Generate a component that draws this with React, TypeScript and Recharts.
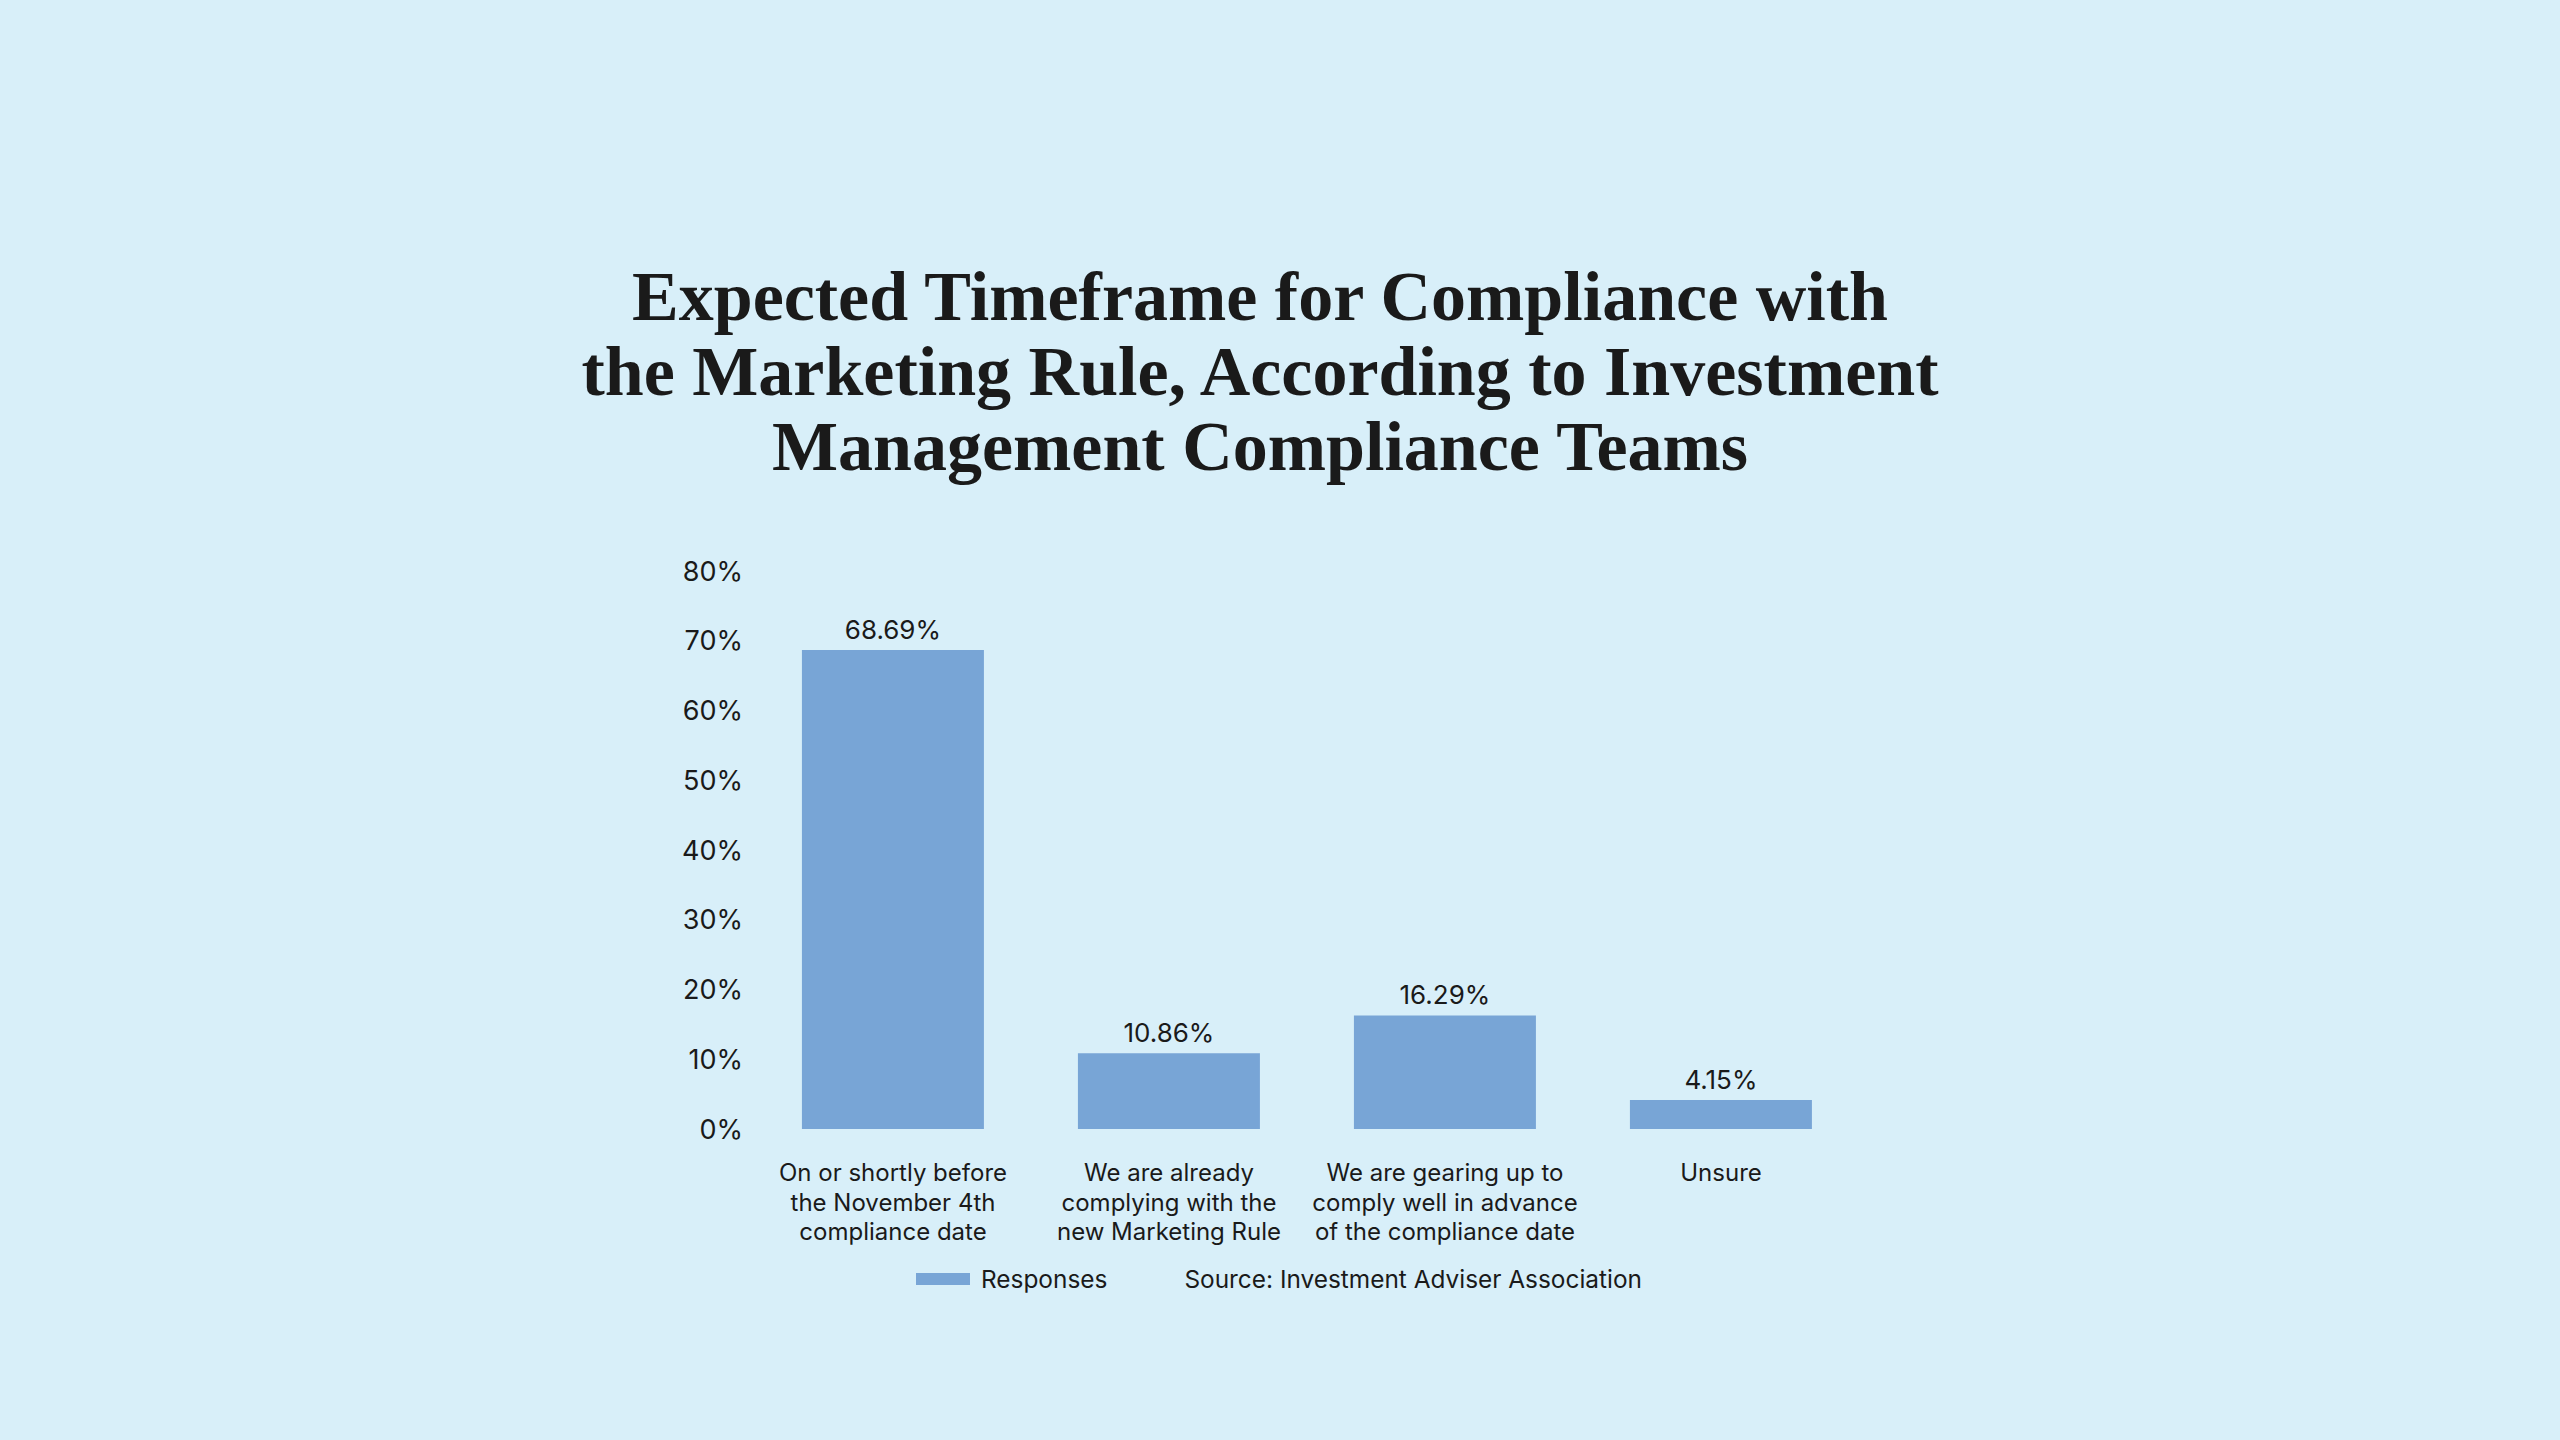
import React from 'react';
import { BarChart, Bar, XAxis, YAxis, LabelList, Legend } from 'recharts';

const titleLines = [
  'Expected Timeframe for Compliance with',
  'the Marketing Rule, According to Investment',
  'Management Compliance Teams',
];
const categories = [
  'On or shortly before\nthe November 4th\ncompliance date',
  'We are already\ncomplying with the\nnew Marketing Rule',
  'We are gearing up to\ncomply well in advance\nof the compliance date',
  'Unsure',
];
const responses = [68.69, 10.86, 16.29, 4.15];
const yTicks = [0, 10, 20, 30, 40, 50, 60, 70, 80];
const seriesName = 'Responses';
const sourceText = 'Source: Investment Adviser Association';

const BG = '#d8eff9';
const BAR = '#78a5d6';
const TEXT = '#1a1a1a';
const SANS = 'Inter, "Noto Sans", sans-serif';

const data = categories.map((c, i) => ({ category: c, value: responses[i] }));

const CategoryTick = (props: any) => {
  const { x, y, payload } = props;
  const lines = String(payload.value).split('\n');
  return (
    <text x={x} y={y} textAnchor="middle" fill={TEXT} fontFamily={SANS} fontSize={24}>
      {lines.map((l, i) => (
        <tspan key={i} x={x} dy={i === 0 ? 44 : 29.5}>
          {l}
        </tspan>
      ))}
    </text>
  );
};

const LegendContent = () => (
  <div
    style={{
      display: 'flex',
      alignItems: 'center',
      height: 30,
      fontFamily: SANS,
      fontSize: 24.4,
      color: TEXT,
      whiteSpace: 'nowrap',
    }}
  >
    <span style={{ width: 54, height: 12, background: BAR, display: 'inline-block' }} />
    <span style={{ marginLeft: 11 }}>{seriesName}</span>
    <span style={{ marginLeft: 77 }}>{sourceText}</span>
  </div>
);

export default function App() {
  return (
    <div
      style={{
        position: 'fixed',
        left: 0,
        top: 0,
        width: 2560,
        height: 1440,
        background: BG,
        overflow: 'hidden',
      }}
    >
      <div
        style={{
          position: 'absolute',
          left: 0,
          top: 259,
          width: 2520,
          textAlign: 'center',
          fontFamily: '"Liberation Serif", serif',
          fontWeight: 700,
          fontSize: 70,
          lineHeight: '75px',
          color: TEXT,
        }}
      >
        {titleLines.map((l, i) => (
          <div key={i}>{l}</div>
        ))}
      </div>
      <div style={{ position: 'absolute', left: 0, top: 0 }}>
        <BarChart
          width={2560}
          height={1440}
          data={data}
          margin={{ top: 571, right: 701, bottom: 161, left: 655 }}
          barCategoryGap="17%"
        >
          <XAxis
            dataKey="category"
            axisLine={false}
            tickLine={false}
            interval={0}
            height={120}
            tick={<CategoryTick />}
          />
          <YAxis
            width={100}
            domain={[0, 80]}
            ticks={yTicks}
            axisLine={false}
            tickLine={false}
            tickMargin={6}
            tickFormatter={(v: number) => `${v}%`}
            tick={{ fill: TEXT, fontFamily: SANS, fontSize: 27 }}
          />
          <Legend
            content={<LegendContent />}
            wrapperStyle={{ position: 'absolute', left: 916, top: 1264, width: 'auto', height: 30 }}
          />
          <Bar dataKey="value" name={seriesName} fill={BAR} isAnimationActive={false}>
            <LabelList
              dataKey="value"
              position="top"
              offset={11}
              formatter={(v: any) => `${Number(v).toFixed(2)}%`}
              style={{ fill: TEXT, fontFamily: SANS, fontSize: 26 }}
            />
          </Bar>
        </BarChart>
      </div>
    </div>
  );
}
